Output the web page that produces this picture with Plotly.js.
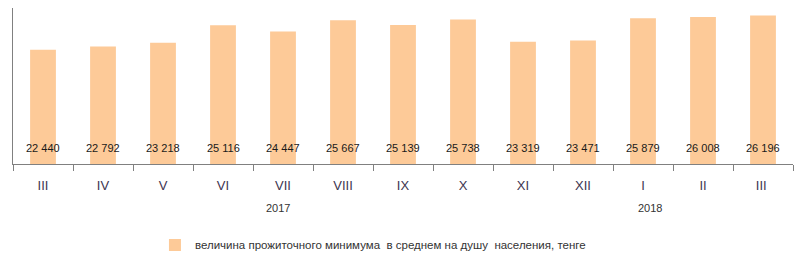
<!DOCTYPE html>
<html><head><meta charset="utf-8">
<script src="https://cdn.plot.ly/plotly-3.0.1.min.js"></script>
<style>html,body{margin:0;padding:0;background:#fff}#c{width:800px;height:266px}</style>
</head><body><div id="c"></div>
<script>
const months = ["III","IV","V","VI","VII","VIII","IX","X","XI","XII","I","II","III "];
const values = [22440,22792,23218,25116,24447,25667,25139,25738,23319,23471,25879,26008,26196];
const labels = ["22 440","22 792","23 218","25 116","24 447","25 667","25 139","25 738","23 319","23 471","25 879","26 008","26 196"];
const years = ["2017","2018"];
const yearPos = [272,668];
const seriesName = "величина прожиточного минимума  в среднем на душу  населения, тенге";

const plotTop=8, plotBot=166;
const ann = months.map((m,i)=>({x:m,y:0,xref:'x',yref:'paper',yanchor:'middle',yshift:16,text:labels[i],showarrow:false,font:{family:'Liberation Sans, Arial',size:11,color:'#1a1a1a'}}));
years.forEach((y,i)=>ann.push({x:yearPos[i]/800,y:(plotBot-211)/(plotBot-plotTop),xref:'paper',yref:'paper',yanchor:'middle',text:y,showarrow:false,font:{family:'Liberation Sans, Arial',size:11,color:'#333'}}));

Plotly.newPlot('c',[{
  type:'bar',x:months,y:values,name:seriesName,marker:{color:'#fdca98'},width:0.43,showlegend:true
}],{
  width:800,height:266,
  margin:{l:13,r:7,t:8,b:100},
  paper_bgcolor:'#fff',plot_bgcolor:'#fff',
  xaxis:{type:'category',showgrid:false,showline:true,linecolor:'#808080',linewidth:1,ticks:'outside',ticklen:6,tickcolor:'#808080',tickson:'boundaries',ticklabelstandoff:9,tickfont:{family:'Liberation Sans, Arial',size:13,color:'#3d3550'},zeroline:false,fixedrange:true},
  yaxis:{range:[10000,27000],showgrid:false,showline:true,linecolor:'#808080',linewidth:1,showticklabels:false,ticks:'',zeroline:false,fixedrange:true},
  showlegend:true,
  legend:{orientation:'h',x:0.182,xanchor:'left',y:(plotBot-248)/(plotBot-plotTop),yanchor:'middle',font:{family:'Liberation Sans, Arial',size:11.5,color:'#333'},itemwidth:30,bgcolor:'rgba(0,0,0,0)'},
  annotations:ann,
  bargap:0.57
},{displayModeBar:false,staticPlot:true});
</script></body></html>
